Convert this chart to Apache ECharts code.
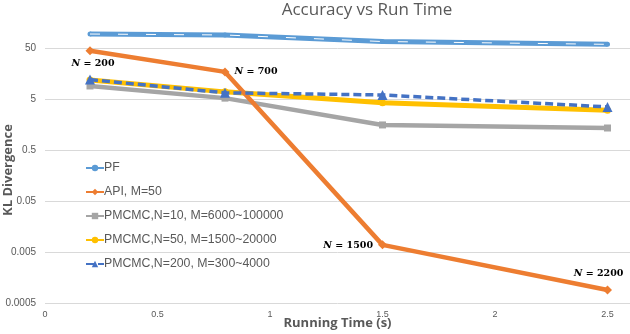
<!DOCTYPE html>
<html>
<head>
<meta charset="utf-8">
<script src="https://cdn.jsdelivr.net/npm/echarts@6/dist/echarts.min.js"></script>
<style>
  html, body { margin: 0; padding: 0; background: #fff; }
  #chart { width: 630px; height: 334px; }
</style>
</head>
<body>
<div id="chart"></div>
<script>
// running time (s) for each measurement
const runTimes = [0.2, 0.8, 1.5, 2.5];

// KL divergence
const pfVals = [94, 90, 67, 59];
const apiVals = [44, 17, 0.0069, 0.0009];
const pm10Vals = [9.0, 5.2, 1.55, 1.35];
const pm50Vals = [11.8, 6.9, 4.2, 3.0];
const pm200Vals = [12, 6.6, 6.0, 3.5];

const apiLabels = ['200', '700', '1500', '2200'];
const apiLabelPos = ['bottom', 'right', 'left', 'top'];
const apiLabelShift = [[3, -2], [0, 0], [0, 1], [-9, -2]];

const legendNames = [
  'PF',
  'API, M=50',
  'PMCMC,N=10, M=6000~100000',
  'PMCMC,N=50, M=1500~20000',
  'PMCMC,N=200, M=300~4000'
];

const pairs = vals => runTimes.map((t, i) => [t, vals[i]]);

const chart = echarts.init(document.getElementById('chart'));

const apiData = runTimes.map((t, i) => ({
  value: [t, apiVals[i]],
  label: {
    show: true,
    position: apiLabelPos[i],
    distance: 5,
    offset: apiLabelShift[i],
    formatter: '{i|N} = ' + apiLabels[i],
    color: '#000',
    fontFamily: 'DejaVu Serif',
    fontWeight: 'bold',
    fontSize: 9.5,
    rich: {
      i: { fontStyle: 'italic', fontWeight: 'bold', fontFamily: 'DejaVu Serif', fontSize: 9.5, color: '#000' }
    }
  }
}));

chart.setOption({
  animation: false,
  title: {
    text: 'Accuracy vs Run Time',
    left: 362,
    textAlign: 'center',
    top: -3,
    textStyle: { color: '#595959', fontSize: 17, fontWeight: 'normal', fontFamily: 'Open Sans' }
  },
  legend: {
    orient: 'vertical',
    left: 80,
    top: 157,
    itemGap: 12,
    itemWidth: 18,
    itemHeight: 8,
    data: legendNames,
    textStyle: { color: '#595959', fontSize: 12.3, fontFamily: 'Liberation Sans', padding: [0, 0, 0, -5] }
  },
  grid: { left: 45, right: 0, top: -3, bottom: 31, outerBoundsMode: 'none', containLabel: false },
  xAxis: {
    type: 'value',
    min: 0,
    max: 2.6,
    interval: 0.5,
    name: 'Running Time (s)',
    nameLocation: 'middle',
    nameGap: 14,
    nameMoveOverlap: false,
    nameTextStyle: { color: '#595959', fontSize: 13, fontWeight: 'bold', fontFamily: 'Open Sans' },
    axisLine: { show: false },
    axisTick: { show: false },
    splitLine: { show: false },
    axisLabel: { color: '#595959', fontSize: 9, margin: 7, showMaxLabel: false }
  },
  yAxis: {
    type: 'log',
    logBase: 10,
    min: 0.0005,
    max: 500,
    interval: 1,
    name: 'KL Divergence',
    nameLocation: 'middle',
    nameGap: 30,
    nameMoveOverlap: false,
    nameTextStyle: {
      color: '#595959', fontSize: 13, fontWeight: 'bold', fontFamily: 'Open Sans',
      padding: [0, 40, 0, 0]
    },
    axisLine: { show: false },
    axisTick: { show: false },
    splitLine: { lineStyle: { color: '#d9d9d9', width: 1 } },
    axisLabel: {
      color: '#595959',
      fontSize: 10,
      margin: 9,
      showMaxLabel: false,
      formatter: v => String(+Number(v).toPrecision(1))
    }
  },
  series: [
    {
      name: legendNames[0],
      type: 'line',
      data: pairs(pfVals),
      symbol: 'circle',
      symbolSize: 5,
      lineStyle: { color: '#5B9BD5', width: 5 },
      itemStyle: { color: '#5B9BD5' },
      z: 2
    },
    {
      // white core of the PF compound line
      name: 'pfCore',
      type: 'line',
      data: pairs(pfVals),
      symbol: 'none',
      silent: true,
      lineStyle: { color: '#ffffff', width: 1, type: [10, 18] },
      z: 3
    },
    {
      name: legendNames[1],
      type: 'line',
      data: apiData,
      symbol: 'diamond',
      symbolSize: 9,
      lineStyle: { color: '#ED7D31', width: 4.5 },
      itemStyle: { color: '#ED7D31' },
      z: 4
    },
    {
      name: legendNames[2],
      type: 'line',
      data: pairs(pm10Vals),
      symbol: 'rect',
      symbolSize: 7,
      lineStyle: { color: '#A5A5A5', width: 4.5 },
      itemStyle: { color: '#A5A5A5' },
      z: 2
    },
    {
      name: legendNames[3],
      type: 'line',
      data: pairs(pm50Vals),
      symbol: 'circle',
      symbolSize: 7,
      lineStyle: { color: '#FFC000', width: 5 },
      itemStyle: { color: '#FFC000' },
      z: 3
    },
    {
      name: legendNames[4],
      type: 'line',
      data: pairs(pm200Vals),
      symbol: 'triangle',
      symbolSize: 10,
      lineStyle: { color: '#4472C4', width: 3.5, type: [8, 4] },
      itemStyle: { color: '#4472C4' },
      z: 5
    }
  ]
});
</script>
</body>
</html>
